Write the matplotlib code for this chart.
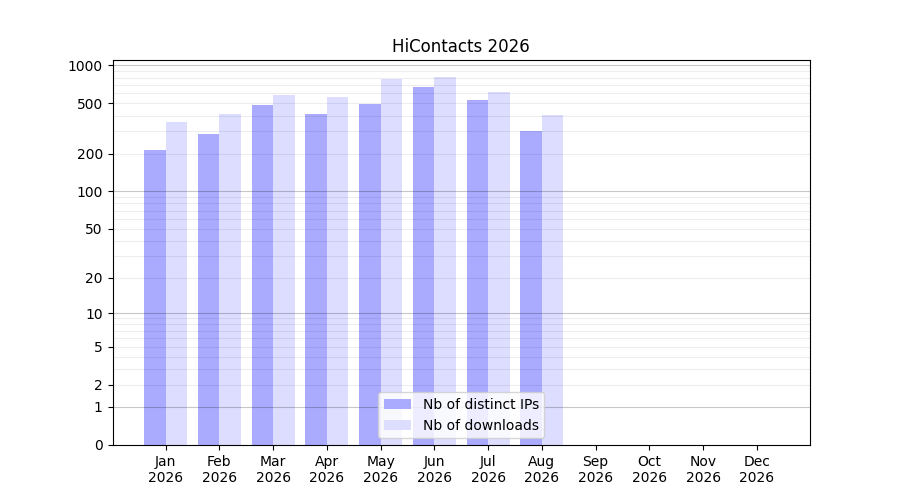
import numpy as np
import matplotlib
matplotlib.use("Agg")
import matplotlib.pyplot as plt

months = ["Jan", "Feb", "Mar", "Apr", "May", "Jun",
          "Jul", "Aug", "Sep", "Oct", "Nov", "Dec"]
year = "2026"
distinct_ips = [212, 284, 482, 409, 491, 669, 528, 300, 0, 0, 0, 0]
downloads = [354, 409, 578, 557, 774, 803, 611, 401, 0, 0, 0, 0]

tick_values = [0, 1, 2, 5, 10, 20, 50, 100, 200, 500, 1000]
major_grid = [1, 10, 100, 1000]
minor_grid = [2, 3, 4, 5, 6, 7, 8, 9,
              20, 30, 40, 50, 60, 70, 80, 90,
              200, 300, 400, 500, 600, 700, 800, 900]


def tr(v):
    # log10(x + 1) so that zero months sit on the baseline
    return np.log10(np.asarray(v, dtype=float) + 1)


fig, ax = plt.subplots(figsize=(9, 5), dpi=100)

x = np.arange(1, len(months) + 1)
ax.bar(x - 0.2, tr(distinct_ips), width=0.4, color="#aaaaff",
       label="Nb of distinct IPs", zorder=1)
ax.bar(x + 0.2, tr(downloads), width=0.4, color="#ddddff",
       label="Nb of downloads", zorder=1)

# grid drawn over the bars, as in the original
for v in minor_grid:
    ax.axhline(tr(v), color="black", lw=0.8, alpha=0.07, zorder=2)
for v in major_grid:
    ax.axhline(tr(v), color="black", lw=0.8, alpha=0.22, zorder=2)

ax.set_yticks(tr(tick_values))
ax.set_yticklabels([str(v) for v in tick_values])
ax.set_xticks(x)
ax.set_xticklabels([f"{m}\n{year}" for m in months])

ax.set_xlim(0.01, 12.99)
ax.set_ylim(0, 3.042)
ax.set_title("HiContacts 2026")
ax.legend(loc="lower center")

fig.savefig("out.png")
